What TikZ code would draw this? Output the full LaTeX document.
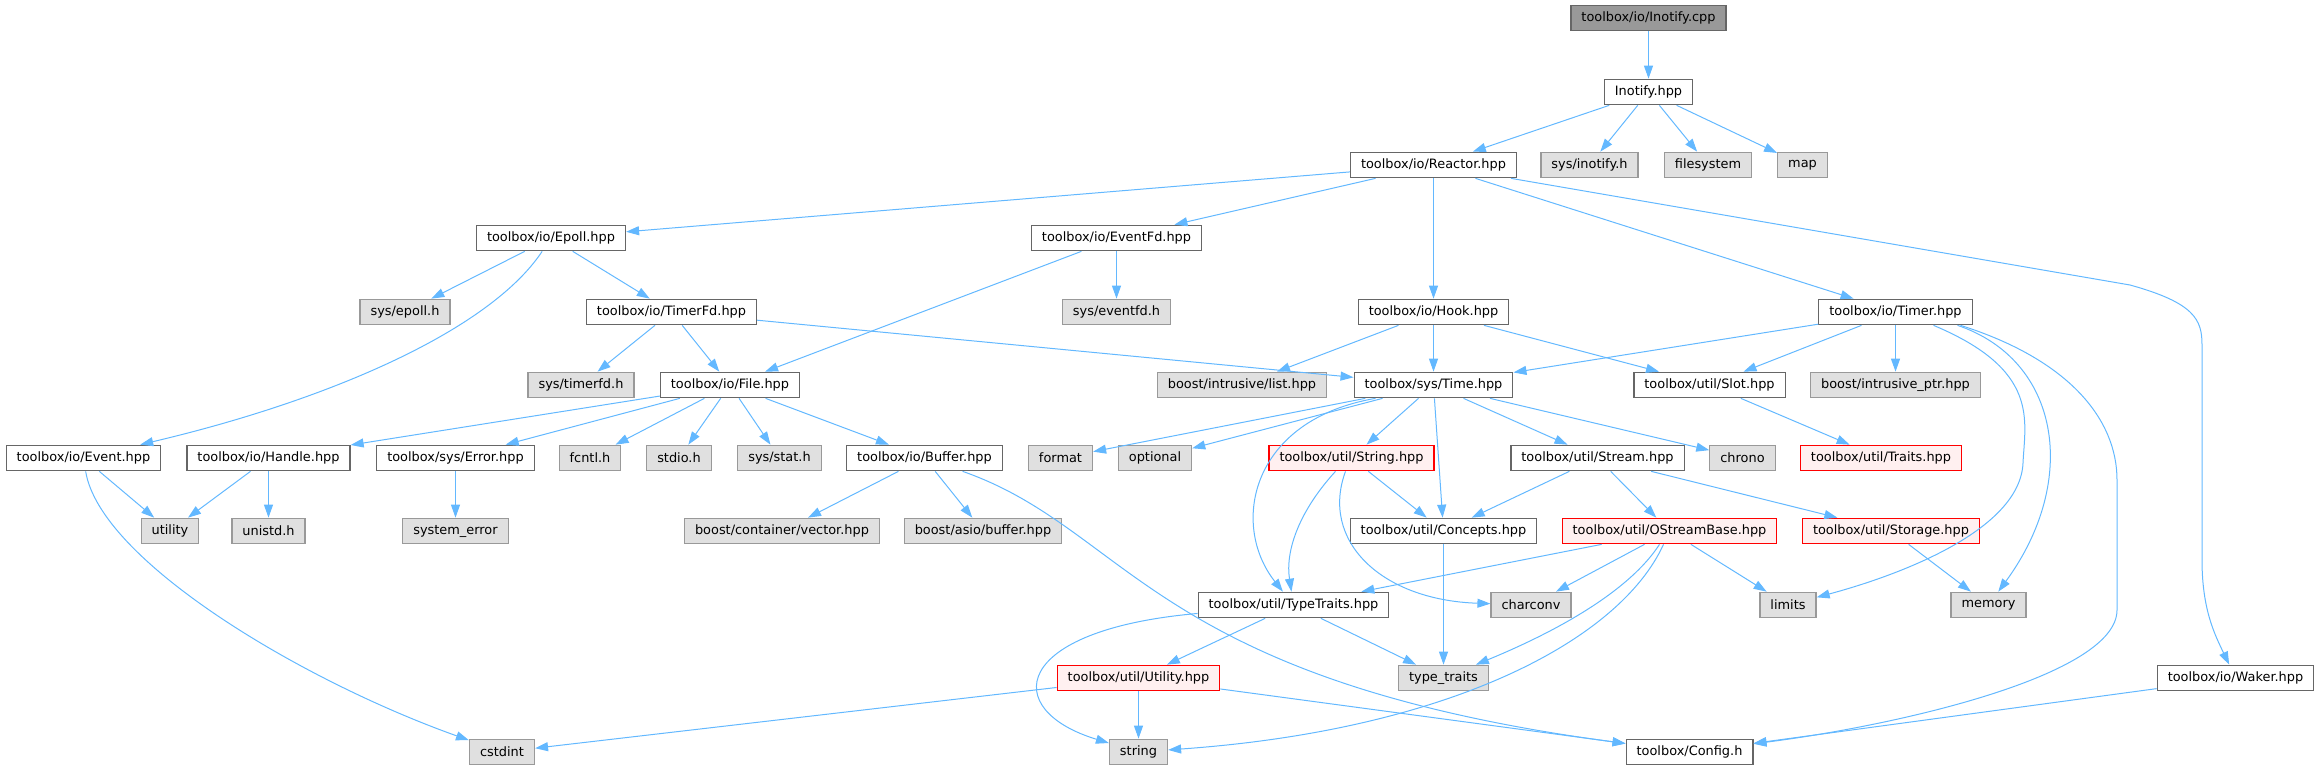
\documentclass[tikz,border=0pt]{standalone}
\usepackage{fontspec}
\setmainfont{DejaVu Sans}
\usepackage{tikz}
\usetikzlibrary{arrows.meta}
\definecolor{dxEdge}{HTML}{63B8FF}
\definecolor{dxFrame}{HTML}{666666}
\definecolor{dxSysFrame}{HTML}{999999}
\definecolor{dxSysFill}{HTML}{E0E0E0}
\definecolor{dxRootFill}{HTML}{999999}
\definecolor{dxRedFill}{HTML}{FFF0F0}
\tikzset{
  >={Triangle[length=13pt,width=9pt]},
  hdr/.style={rectangle, draw=dxFrame, fill=white, line width=1.2pt, inner xsep=10.5pt,
              inner ysep=0pt, minimum height=25.5pt, font=\fontsize{12.9}{15}\selectfont},
  syshdr/.style={hdr, draw=dxSysFrame, fill=dxSysFill},
  rootfile/.style={hdr, fill=dxRootFill},
  trunc/.style={hdr, draw=red, fill=dxRedFill},
  dep/.style={->, draw=dxEdge, line width=1pt},
}
\begin{document}
\begin{tikzpicture}[x=1pt, y=-1pt]
  \useasboundingbox (0,0) rectangle (2323,769);

  \node[rootfile] (incpp) at (1648.5,18) {toolbox/io/Inotify.cpp};
  \node[hdr] (inhpp) at (1648.5,92) {Inotify.hpp};
  \node[hdr] (reactor) at (1433.5,165) {toolbox/io/Reactor.hpp};
  \node[syshdr] (sysinotify) at (1589.5,165) {sys/inotify.h};
  \node[syshdr] (filesystem) at (1708,165) {filesystem};
  \node[syshdr] (map) at (1802.5,165) {map};
  \node[hdr] (epoll) at (551,238) {toolbox/io/Epoll.hpp};
  \node[hdr] (eventfd) at (1116.5,238) {toolbox/io/EventFd.hpp};
  \node[syshdr] (sysepoll) at (405,312) {sys/epoll.h};
  \node[hdr] (timerfd) at (671.5,312) {toolbox/io/TimerFd.hpp};
  \node[syshdr] (syseventfd) at (1116.5,312) {sys/eventfd.h};
  \node[hdr] (hook) at (1433.5,312) {toolbox/io/Hook.hpp};
  \node[hdr] (timer) at (1895.5,312) {toolbox/io/Timer.hpp};
  \node[syshdr] (systimerfd) at (581,385) {sys/timerfd.h};
  \node[hdr] (file) at (730,385) {toolbox/io/File.hpp};
  \node[syshdr] (intrlist) at (1242,385) {boost/intrusive/list.hpp};
  \node[hdr] (time) at (1433.5,385) {toolbox/sys/Time.hpp};
  \node[hdr] (slot) at (1709.5,385) {toolbox/util/Slot.hpp};
  \node[syshdr] (intrptr) at (1895.5,385) {boost/intrusive\_ptr.hpp};
  \node[hdr] (event) at (83.5,458) {toolbox/io/Event.hpp};
  \node[hdr] (handle) at (268.5,458) {toolbox/io/Handle.hpp};
  \node[hdr] (error) at (455.5,458) {toolbox/sys/Error.hpp};
  \node[syshdr] (fcntl) at (590,458) {fcntl.h};
  \node[syshdr] (stdio) at (679,458) {stdio.h};
  \node[syshdr] (sysstat) at (779.5,458) {sys/stat.h};
  \node[hdr] (buffer) at (924.5,458) {toolbox/io/Buffer.hpp};
  \node[syshdr] (format) at (1060.5,458) {format};
  \node[syshdr] (optional) at (1155,458) {optional};
  \node[trunc] (string) at (1351.5,458) {toolbox/util/String.hpp};
  \node[hdr] (stream) at (1597.5,458) {toolbox/util/Stream.hpp};
  \node[syshdr] (chrono) at (1742.5,458) {chrono};
  \node[trunc] (traits) at (1881,458) {toolbox/util/Traits.hpp};
  \node[syshdr] (utility) at (170,531) {utility};
  \node[syshdr] (unistd) at (268.5,531) {unistd.h};
  \node[syshdr] (syserror) at (455.5,531) {system\_error};
  \node[syshdr] (vector) at (782,531) {boost/container/vector.hpp};
  \node[syshdr] (asio) at (983,531) {boost/asio/buffer.hpp};
  \node[hdr] (concepts) at (1443.5,531) {toolbox/util/Concepts.hpp};
  \node[trunc] (ostreambase) at (1669.5,531) {toolbox/util/OStreamBase.hpp};
  \node[trunc] (storage) at (1891,531) {toolbox/util/Storage.hpp};
  \node[hdr] (typetraits) at (1293.5,605) {toolbox/util/TypeTraits.hpp};
  \node[syshdr] (charconv) at (1531,605) {charconv};
  \node[syshdr] (limits) at (1788,605) {limits};
  \node[syshdr] (memory) at (1988.5,605) {memory};
  \node[trunc] (utilhpp) at (1138.5,678) {toolbox/util/Utility.hpp};
  \node[syshdr] (typetraitsstd) at (1443.5,678) {type\_traits};
  \node[hdr] (waker) at (2235.5,678) {toolbox/io/Waker.hpp};
  \node[syshdr] (cstdint) at (502,752) {cstdint};
  \node[syshdr] (stdstring) at (1138.5,752) {string};
  \node[hdr] (config) at (1689.5,752) {toolbox/Config.h};

  \draw[dep] (incpp) -- (inhpp);
  \draw[dep] (inhpp) -- (reactor);
  \draw[dep] (inhpp) -- (sysinotify);
  \draw[dep] (inhpp) -- (filesystem);
  \draw[dep] (inhpp) -- (map);
  \draw[dep] (reactor) -- (epoll);
  \draw[dep] (reactor) -- (eventfd);
  \draw[dep] (reactor) -- (hook);
  \draw[dep] (reactor) -- (timer);
  \draw[dep] (reactor) -- (2130,285) .. controls (2195,303) and (2202,320) .. (2202,345)
    -- (2202,560) .. controls (2202,610) and (2215,635) .. (waker);
  \draw[dep] (epoll) -- (sysepoll);
  \draw[dep] (epoll) -- (timerfd);
  \draw[dep] (epoll) .. controls (490,330) and (330,400) .. (event);
  \draw[dep] (eventfd) -- (syseventfd);
  \draw[dep] (eventfd) -- (file);
  \draw[dep] (timerfd) -- (systimerfd);
  \draw[dep] (timerfd) -- (file);
  \draw[dep] (timerfd) -- (time);
  \draw[dep] (hook) -- (intrlist);
  \draw[dep] (hook) -- (time);
  \draw[dep] (hook) -- (slot);
  \draw[dep] (timer) -- (time);
  \draw[dep] (timer) -- (slot);
  \draw[dep] (timer) -- (intrptr);
  \draw[dep] ([xshift=38pt]timer.south) .. controls (2040,370) and (2025,420) .. (2023,463)
    .. controls (2020,530) and (1900,575) .. (limits);
  \draw[dep] ([xshift=62pt]timer.south) .. controls (2060,360) and (2080,480) .. (memory);
  \draw[dep] ([xshift=65pt]timer.south) .. controls (2070,360) and (2117,420) .. (2117,480)
    -- (2117,610) .. controls (2117,675) and (1900,725) .. (config);
  \draw[dep] (file) -- (handle);
  \draw[dep] (file) -- (error);
  \draw[dep] (file) -- (fcntl);
  \draw[dep] (file) -- (stdio);
  \draw[dep] (file) -- (sysstat);
  \draw[dep] (file) -- (buffer);
  \draw[dep] (event) -- (utility);
  \draw[dep] (event) .. controls (100,560) and (300,680) .. (cstdint);
  \draw[dep] (handle) -- (utility);
  \draw[dep] (handle) -- (unistd);
  \draw[dep] (error) -- (syserror);
  \draw[dep] (buffer) -- (vector);
  \draw[dep] (buffer) -- (asio);
  \draw[dep] (buffer) .. controls (1130,530) and (1150,680) .. (config);
  \draw[dep] (time) -- (format);
  \draw[dep] (time) -- (optional);
  \draw[dep] ([xshift=-58pt]time.south) .. controls (1250,420) and (1230,525) .. (typetraits);
  \draw[dep] (time) -- (string);
  \draw[dep] (time) -- (concepts);
  \draw[dep] (time) -- (stream);
  \draw[dep] (time) -- (chrono);
  \draw[dep] ([xshift=-16pt]string.south) .. controls (1300,510) and (1285,550) .. (typetraits);
  \draw[dep] ([xshift=-6pt]string.south) .. controls (1320,540) and (1380,600) .. (charconv);
  \draw[dep] (string) -- (concepts);
  \draw[dep] (slot) -- (traits);
  \draw[dep] (stream) -- (concepts);
  \draw[dep] (stream) -- (ostreambase);
  \draw[dep] (stream) -- (storage);
  \draw[dep] (concepts) -- (typetraitsstd);
  \draw[dep] (ostreambase) -- (typetraits);
  \draw[dep] (ostreambase) -- (charconv);
  \draw[dep] (ostreambase) -- (limits);
  \draw[dep] ([xshift=-10pt]ostreambase.south) .. controls (1630,590) and (1560,630) .. (typetraitsstd);
  \draw[dep] ([xshift=-6pt]ostreambase.south) .. controls (1620,640) and (1450,730) .. (stdstring);
  \draw[dep] (storage) -- (memory);
  \draw[dep] (typetraits) -- (utilhpp);
  \draw[dep] (typetraits) -- (typetraitsstd);
  \draw[dep] (typetraits) .. controls (1010,630) and (1000,710) .. (stdstring);
  \draw[dep] (utilhpp) -- (stdstring);
  \draw[dep] (utilhpp) -- (cstdint);
  \draw[dep] (utilhpp) -- (config);
  \draw[dep] (waker) -- (config);
\end{tikzpicture}
\end{document}
